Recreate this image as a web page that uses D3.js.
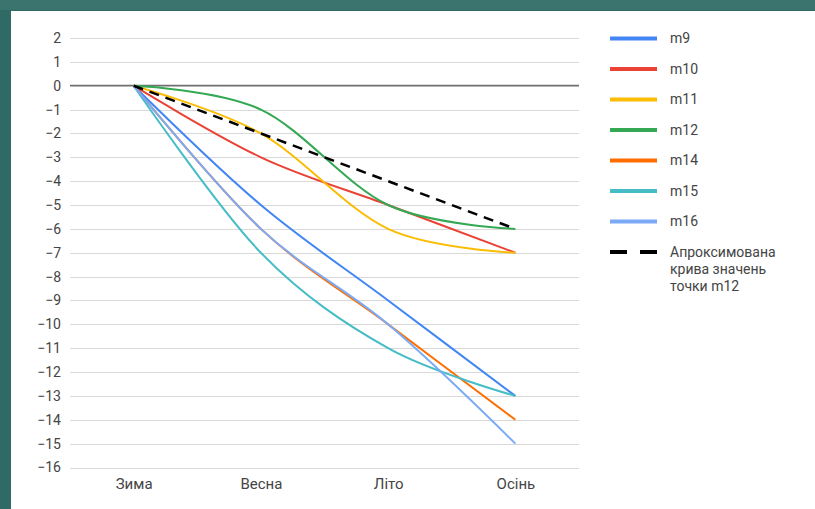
<!DOCTYPE html>
<html><head><meta charset="utf-8">
<script src="https://cdn.jsdelivr.net/npm/d3@7"></script>
<style>
html,body{margin:0;padding:0;background:#2f6a65;}
svg{display:block;}
text{font-family:Roboto,Arial,sans-serif;}
</style></head>
<body><svg id="c" width="815" height="509"></svg>
<script>
const categories = ["Зима","Весна","Літо","Осінь"];
const seriesNames = ["m9","m10","m11","m12","m14","m15","m16"];
const m9  = [0,-5,-9,-13];
const m10 = [0,-3,-5,-7];
const m11 = [0,-2,-6,-7];
const m12 = [0,-1,-5,-6];
const m14 = [0,-6,-10,-14];
const m15 = [0,-7,-11,-13];
const m16 = [0,-6,-10,-15];
const approxName = ["Апроксимована","крива значень","точки m12"];
const approx = [0,-2,-4,-6];
const yTicks = [2,1,0,-1,-2,-3,-4,-5,-6,-7,-8,-9,-10,-11,-12,-13,-14,-15,-16];
const colors = ["#4285f4","#ea4335","#fbbc04","#34a853","#ff6d01","#46bdc6","#7baaf7"];
const seriesValues = [m9,m10,m11,m12,m14,m15,m16];

const svg = d3.select("#c");
svg.append("rect").attr("x",0).attr("y",0).attr("width",815).attr("height",509).attr("fill","#2f6a65");
svg.append("rect").attr("x",0).attr("y",0).attr("width",815).attr("height",10).attr("fill","#3b736e");
svg.append("rect").attr("x",11).attr("y",11).attr("width",804).attr("height",498).attr("fill","#ffffff");

const x = d3.scalePoint().domain(categories).range([70,579]).padding(0.5);
const y = d3.scaleLinear().domain([-16,2]).range([467.5,38]);

// gridlines
svg.append("g").selectAll("line").data(yTicks.filter(d=>d!==0)).join("line")
  .attr("x1",70).attr("x2",579).attr("y1",d=>Math.round(y(d))+0.5).attr("y2",d=>Math.round(y(d))+0.5)
  .attr("stroke","#d9d9d9").attr("stroke-width",1);

// y axis labels
const yAxis = d3.axisLeft(y).tickValues(yTicks).tickSize(0).tickPadding(0);
const gy = svg.append("g").attr("transform","translate(61,0)").call(yAxis);
gy.select(".domain").remove();
gy.selectAll("text").attr("font-size",14).attr("fill","#444").attr("font-family","Roboto,Arial,sans-serif");

// x axis labels
const xAxis = d3.axisBottom(x).tickSize(0).tickPadding(0);
const gx = svg.append("g").attr("transform","translate(0,478)").call(xAxis);
gx.select(".domain").remove();
gx.selectAll("text").attr("font-size",15).attr("fill","#444").attr("font-family","Roboto,Arial,sans-serif");

// zero baseline
svg.append("line").attr("x1",70).attr("x2",579).attr("y1",y(0)).attr("y2",y(0))
  .attr("stroke","#6f6f6f").attr("stroke-width",1.8);

// Google-like smoothing curve
function GCurve(context,k){this._context=context;this._k=k;}
GCurve.prototype = {
  areaStart(){}, areaEnd(){},
  lineStart(){this._pts=[];},
  point(a,b){this._pts.push([+a,+b]);},
  lineEnd(){
    const p=this._pts, c=this._context, k=this._k, n=p.length;
    if(!n) return;
    c.moveTo(p[0][0],p[0][1]);
    for(let i=0;i<n-1;i++){
      const c1 = i>0 ? [p[i][0]+k*(p[i+1][0]-p[i-1][0]), p[i][1]+k*(p[i+1][1]-p[i-1][1])] : p[i];
      const c2 = i+2<n ? [p[i+1][0]-k*(p[i+2][0]-p[i][0]), p[i+1][1]-k*(p[i+2][1]-p[i][1])] : p[i+1];
      c.bezierCurveTo(c1[0],c1[1],c2[0],c2[1],p[i+1][0],p[i+1][1]);
    }
  }
};
const gcurve = ctx => new GCurve(ctx, 1/6);

const line = d3.line().x((d,i)=>x(categories[i])).y(d=>y(d)).curve(gcurve);
const lineLin = d3.line().x((d,i)=>x(categories[i])).y(d=>y(d)).curve(d3.curveLinear);

seriesValues.forEach((vals,i)=>{
  svg.append("path").attr("d",line(vals)).attr("fill","none")
    .attr("stroke",colors[i]).attr("stroke-width",2).attr("stroke-linejoin","round");
});
svg.append("path").attr("d",lineLin(approx)).attr("fill","none")
  .attr("stroke","#000").attr("stroke-width",2.5).attr("stroke-dasharray","10,7");

// legend
const lg = svg.append("g");
const rowY = i => 38.5 + i*30.5;
seriesNames.forEach((nm,i)=>{
  lg.append("line").attr("x1",610).attr("x2",657).attr("y1",rowY(i)).attr("y2",rowY(i))
    .attr("stroke",colors[i]).attr("stroke-width",4);
  lg.append("text").attr("x",670).attr("y",rowY(i)).attr("dy","0.35em")
    .attr("font-size",14).attr("fill","#444").text(nm);
});
const ai = seriesNames.length;
lg.append("line").attr("x1",610).attr("x2",657).attr("y1",rowY(ai)).attr("y2",rowY(ai))
  .attr("stroke","#000").attr("stroke-width",4).attr("stroke-dasharray","17,13");
approxName.forEach((t,j)=>{
  lg.append("text").attr("x",670).attr("y",rowY(ai)+j*17).attr("dy","0.35em")
    .attr("font-size",14).attr("fill","#444").text(t);
});
</script></body></html>
